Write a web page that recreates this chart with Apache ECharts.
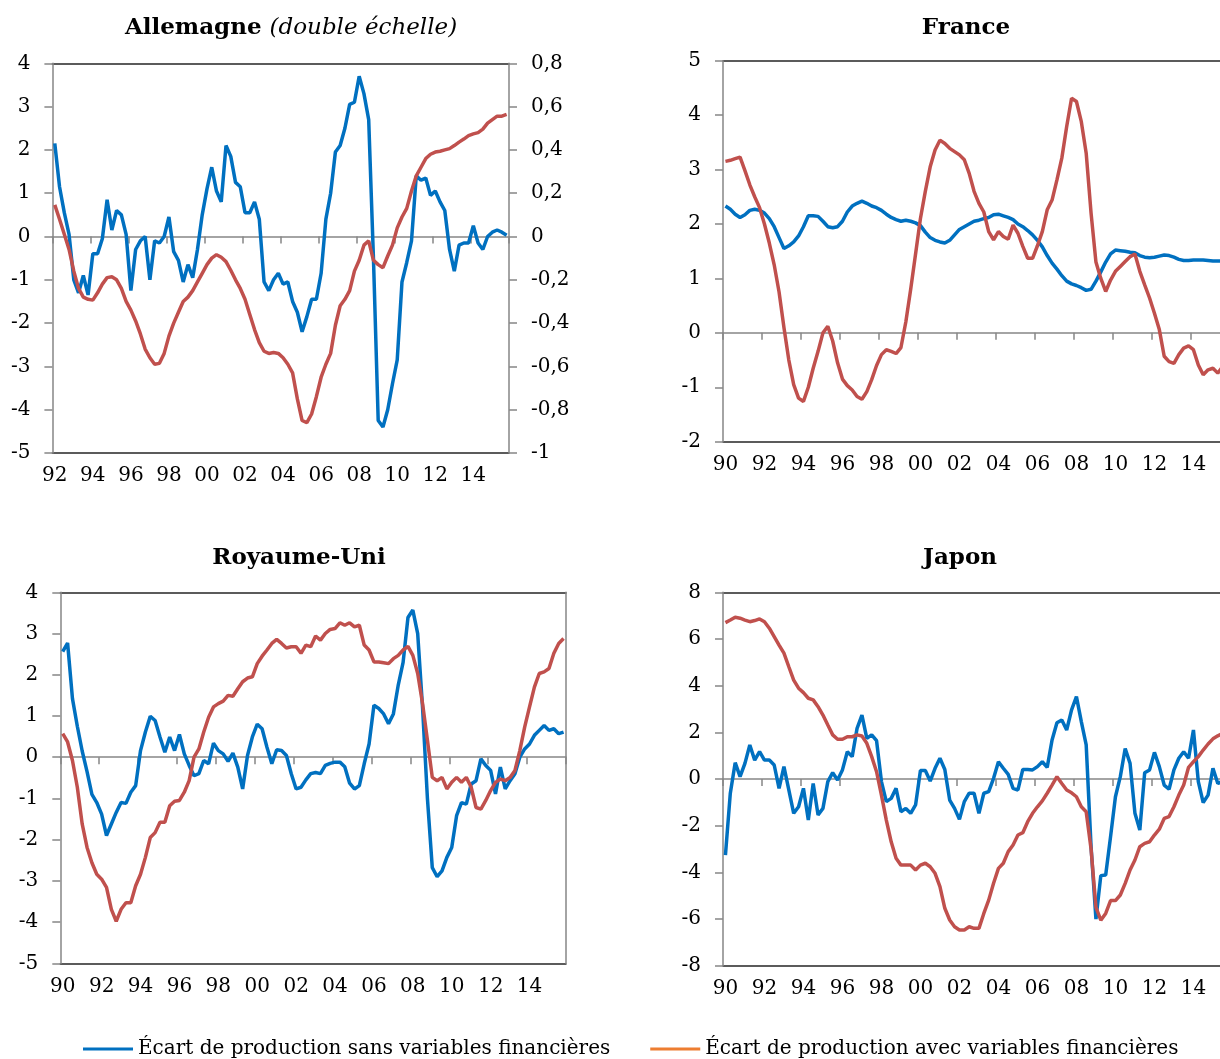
<!DOCTYPE html>
<html><head><meta charset="utf-8">
<script src="https://cdn.jsdelivr.net/npm/echarts@6/dist/echarts.min.js"></script>
<style>html,body{margin:0;padding:0;background:#fff}#c{width:1220px;height:1059px}</style>
</head><body><div id="c"></div><script>
// ---- tick labels (years) ----
const yearsDE = ['92','93','94','95','96','97','98','99','00','01','02','03','04','05','06','07','08','09','10','11','12','13','14','15'];
const yearsFR = ['90','91','92','93','94','95','96','97','98','99','00','01','02','03','04','05','06','07','08','09','10','11','12','13','14','15'];
const yearsUK = yearsFR;
const yearsJP = yearsFR;

// ---- series names ----
const nameSans = 'Écart de production sans variables financières';
const nameAvec = 'Écart de production avec variables financières';

// ---- Allemagne (blue: left axis, red: right axis) ----
const deSans = [2.15,1.15,0.55,0.05,-1.0,-1.3,-0.9,-1.35,-0.4,-0.4,
 -0.05,0.85,0.15,0.6,0.5,0.05,-1.25,-0.3,-0.1,0.0,
 -1.0,-0.1,-0.15,0.0,0.45,-0.35,-0.55,-1.05,-0.65,-0.95,
 -0.3,0.5,1.1,1.6,1.05,0.8,2.1,1.85,1.25,1.15,
 0.55,0.55,0.8,0.4,-1.05,-1.25,-1.0,-0.85,-1.1,-1.05,
 -1.5,-1.75,-2.2,-1.85,-1.45,-1.45,-0.85,0.4,1.0,1.95,
 2.1,2.5,3.05,3.1,3.7,3.3,2.7,-0.5,-4.25,-4.4,
 -4.0,-3.4,-2.85,-1.05,-0.6,-0.1,1.4,1.3,1.35,0.95,
 1.05,0.8,0.6,-0.3,-0.8,-0.2,-0.15,-0.15,0.25,-0.15,
 -0.3,0.0,0.1,0.15,0.1,0.03];
const deAvec = [0.146,0.08,0.01,-0.06,-0.16,-0.24,-0.28,-0.29,-0.294,-0.26,
 -0.22,-0.19,-0.186,-0.2,-0.24,-0.3,-0.34,-0.39,-0.45,-0.52,
 -0.56,-0.59,-0.586,-0.54,-0.46,-0.4,-0.35,-0.3,-0.28,-0.25,
 -0.21,-0.17,-0.13,-0.1,-0.084,-0.096,-0.116,-0.156,-0.2,-0.24,
 -0.29,-0.36,-0.43,-0.49,-0.53,-0.54,-0.536,-0.54,-0.56,-0.59,
 -0.63,-0.75,-0.85,-0.86,-0.82,-0.74,-0.65,-0.59,-0.54,-0.41,
 -0.32,-0.29,-0.25,-0.16,-0.11,-0.04,-0.02,-0.11,-0.13,-0.144,
 -0.09,-0.04,0.04,0.09,0.13,0.21,0.28,0.32,0.36,0.38,
 0.39,0.394,0.4,0.406,0.42,0.436,0.45,0.466,0.474,0.48,
 0.496,0.524,0.54,0.556,0.556,0.564];

// ---- France ----
const frSans = [2.33,2.27,2.18,2.12,2.17,2.25,2.27,2.25,2.2,2.1,
 1.95,1.75,1.55,1.6,1.67,1.78,1.95,2.15,2.15,2.14,
 2.05,1.95,1.93,1.95,2.05,2.22,2.33,2.38,2.42,2.38,
 2.33,2.3,2.25,2.18,2.12,2.08,2.05,2.07,2.05,2.02,
 1.97,1.85,1.75,1.7,1.67,1.65,1.7,1.8,1.9,1.95,
 2.0,2.05,2.07,2.1,2.12,2.17,2.18,2.15,2.12,2.08,
 2.0,1.95,1.88,1.8,1.7,1.58,1.42,1.28,1.17,1.05,
 0.95,0.9,0.87,0.83,0.78,0.8,0.95,1.12,1.3,1.45,
 1.52,1.51,1.5,1.48,1.47,1.42,1.39,1.38,1.39,1.41,
 1.43,1.42,1.39,1.35,1.33,1.33,1.34,1.34,1.34,1.33,
 1.32,1.32,1.32,1.32];
const frAvec = [3.15,3.17,3.2,3.23,2.98,2.72,2.5,2.3,2.0,1.65,
 1.25,0.75,0.1,-0.5,-0.95,-1.2,-1.26,-1.0,-0.65,-0.34,
 0.0,0.12,-0.15,-0.55,-0.85,-0.97,-1.05,-1.17,-1.22,-1.08,
 -0.86,-0.6,-0.4,-0.31,-0.34,-0.38,-0.27,0.2,0.8,1.45,
 2.1,2.6,3.05,3.36,3.54,3.48,3.39,3.33,3.27,3.18,
 2.93,2.6,2.38,2.22,1.86,1.71,1.86,1.77,1.72,1.98,
 1.83,1.59,1.37,1.37,1.6,1.86,2.26,2.44,2.81,3.21,
 3.79,4.31,4.25,3.88,3.3,2.2,1.3,1.0,0.76,0.97,
 1.13,1.22,1.31,1.4,1.45,1.13,0.88,0.64,0.36,0.06,
 -0.43,-0.53,-0.56,-0.4,-0.28,-0.24,-0.31,-0.59,-0.77,-0.68,
 -0.65,-0.74,-0.62,-0.6];

// ---- Royaume-Uni ----
const ukSans = [2.56,2.77,1.42,0.75,0.15,-0.35,-0.9,-1.1,-1.38,-1.9,
 -1.62,-1.34,-1.1,-1.12,-0.85,-0.69,0.16,0.61,0.99,0.89,
 0.49,0.12,0.49,0.16,0.55,0.08,-0.2,-0.45,-0.4,-0.08,
 -0.16,0.34,0.16,0.08,-0.1,0.1,-0.24,-0.77,0.04,0.49,
 0.8,0.69,0.24,-0.16,0.18,0.16,0.04,-0.4,-0.77,-0.73,
 -0.55,-0.4,-0.37,-0.4,-0.2,-0.15,-0.12,-0.12,-0.23,-0.63,
 -0.77,-0.69,-0.16,0.32,1.26,1.18,1.05,0.81,1.05,1.75,
 2.3,3.39,3.57,3.0,1.2,-1.0,-2.68,-2.9,-2.76,-2.43,
 -2.19,-1.42,-1.1,-1.14,-0.65,-0.57,-0.04,-0.2,-0.32,-0.89,
 -0.24,-0.77,-0.57,-0.4,0.0,0.2,0.32,0.53,0.65,0.77,
 0.65,0.69,0.57,0.61];
const ukAvec = [0.57,0.37,-0.08,-0.73,-1.62,-2.19,-2.56,-2.84,-2.96,-3.16,
 -3.69,-3.98,-3.69,-3.53,-3.53,-3.12,-2.84,-2.43,-1.95,-1.83,
 -1.58,-1.58,-1.18,-1.07,-1.05,-0.85,-0.57,0.0,0.2,0.61,
 0.97,1.22,1.3,1.36,1.5,1.48,1.66,1.83,1.92,1.95,
 2.27,2.45,2.6,2.76,2.86,2.76,2.65,2.68,2.68,2.52,
 2.72,2.68,2.94,2.84,3.0,3.1,3.12,3.26,3.2,3.26,
 3.16,3.2,2.72,2.6,2.31,2.31,2.29,2.27,2.39,2.47,
 2.6,2.69,2.47,2.03,1.3,0.41,-0.49,-0.57,-0.49,-0.77,
 -0.61,-0.49,-0.61,-0.49,-0.73,-1.22,-1.26,-1.05,-0.81,-0.61,
 -0.53,-0.57,-0.49,-0.32,0.16,0.73,1.22,1.7,2.03,2.07,
 2.15,2.52,2.76,2.88];

// ---- Japon ----
const jpSans = [-3.26,-0.61,0.7,0.1,0.67,1.46,0.81,1.17,0.81,0.81,
 0.6,-0.4,0.53,-0.47,-1.47,-1.19,-0.4,-1.76,-0.19,-1.54,
 -1.26,-0.11,0.27,-0.04,0.39,1.17,0.96,2.17,2.74,1.74,
 1.89,1.64,-0.11,-0.97,-0.83,-0.4,-1.4,-1.26,-1.47,-1.11,
 0.36,0.36,-0.09,0.46,0.89,0.41,-0.9,-1.26,-1.73,-0.97,
 -0.61,-0.61,-1.47,-0.61,-0.54,0.03,0.74,0.46,0.2,-0.4,
 -0.47,0.41,0.41,0.39,0.53,0.74,0.5,1.67,2.41,2.53,
 2.1,2.96,3.53,2.46,1.46,-2.9,-6.0,-4.14,-4.11,-2.47,
 -0.76,0.1,1.31,0.67,-1.47,-2.19,0.27,0.39,1.14,0.53,
 -0.26,-0.44,0.39,0.89,1.17,0.89,2.1,-0.11,-1.01,-0.69,
 0.46,-0.19,-0.1,0.0];
const jpAvec = [6.7,6.81,6.93,6.89,6.81,6.74,6.79,6.86,6.74,6.46,
 6.1,5.74,5.39,4.81,4.24,3.89,3.7,3.46,3.39,3.1,
 2.74,2.31,1.89,1.7,1.7,1.81,1.81,1.89,1.84,1.53,
 0.96,0.31,-0.69,-1.76,-2.69,-3.4,-3.69,-3.69,-3.69,-3.9,
 -3.69,-3.61,-3.76,-4.04,-4.61,-5.54,-6.04,-6.33,-6.47,-6.47,
 -6.33,-6.4,-6.4,-5.76,-5.19,-4.47,-3.83,-3.61,-3.11,-2.83,
 -2.4,-2.3,-1.83,-1.47,-1.19,-0.94,-0.61,-0.26,0.1,-0.19,
 -0.47,-0.59,-0.76,-1.19,-1.4,-3.0,-5.5,-6.05,-5.76,-5.21,
 -5.21,-4.97,-4.47,-3.9,-3.47,-2.9,-2.76,-2.69,-2.4,-2.15,
 -1.69,-1.61,-1.19,-0.69,-0.26,0.5,0.74,0.96,1.24,1.5,
 1.72,1.85,1.95,2.05];

// ---- styling ----
const FONT = '"DejaVu Serif", "Liberation Serif", serif';
const BLUE = '#0070C0', RED = '#C0504D', LEG_RED = '#ED7D31';
const GRAY = '#868686', DARK = '#262626';

function quarters(years){ return years.flatMap(y => ['Q1','Q2','Q3','Q4'].map(q => y + ' ' + q)); }
function intLabel(v){ const r = Math.round(v*10)/10; return Number.isInteger(r) ? String(r) : r.toFixed(1).replace('.', ','); }

const panels = [
  {years: yearsDE, grid:{left:52.4, top:63.3, width:456.6, height:389.7}, min:-5, max:4, interval:1,
   right:{min:-1, max:0.8, interval:0.2, labels:true}, sans:deSans, avec:deAvec, avecRight:true},
  {years: yearsFR, grid:{left:723, top:60.7, width:507, height:381}, min:-2, max:5, interval:1,
   right:null, sans:frSans, avec:frAvec},
  {years: yearsUK, grid:{left:60.3, top:592.3, width:505.7, height:371}, min:-5, max:4, interval:1,
   right:{min:-5, max:4, interval:1, labels:false}, sans:ukSans, avec:ukAvec},
  {years: yearsJP, grid:{left:723, top:592.3, width:507, height:373.4}, min:-8, max:8, interval:2,
   right:null, sans:jpSans, avec:jpAvec}
];

const grid = [], xAxis = [], yAxis = [], series = [];
const labelStyle = {fontFamily: FONT, fontSize: 20, color: '#000'};
panels.forEach((p, g) => {
  grid.push(Object.assign({outerBoundsMode:'none', containLabel:false}, p.grid));
  const cats = quarters(p.years);
  const xBase = xAxis.length;
  xAxis.push({type:'category', gridIndex:g, data:cats, boundaryGap:true, position:'bottom',
    axisLine:{show:true, onZero:true, lineStyle:{color:GRAY, width:1.5}},
    axisTick:{show:true, interval:7, length:7, lineStyle:{color:GRAY, width:1.5}},
    axisLabel:{show:false}, splitLine:{show:false}, z:2});
  xAxis.push({type:'category', gridIndex:g, data:cats, boundaryGap:true, position:'bottom',
    axisLine:{show:true, onZero:false, lineStyle:{color:DARK, width:1.5}},
    axisTick:{show:false}, splitLine:{show:false},
    axisLabel:Object.assign({show:true, interval:7, margin:13, formatter:v => v.split(' ')[0]}, labelStyle)});
  xAxis.push({type:'category', gridIndex:g, data:cats, boundaryGap:true, position:'top',
    axisLine:{show:true, onZero:false, lineStyle:{color:DARK, width:1.5}},
    axisTick:{show:false}, axisLabel:{show:false}, splitLine:{show:false}});
  const yBase = yAxis.length;
  yAxis.push({type:'value', gridIndex:g, position:'left', min:p.min, max:p.max, interval:p.interval,
    axisLine:{show:true, onZero:false, lineStyle:{color:GRAY, width:1.5}},
    axisTick:{show:true, length:8, lineStyle:{color:GRAY, width:1.5}},
    splitLine:{show:false},
    axisLabel:Object.assign({margin:22, formatter:intLabel}, labelStyle), z:3});
  if (p.right) {
    yAxis.push({type:'value', gridIndex:g, position:'right', min:p.right.min, max:p.right.max, interval:p.right.interval,
      axisLine:{show:true, onZero:false, lineStyle:{color:GRAY, width:1.5}},
      axisTick:{show:p.right.labels, length:8, lineStyle:{color:GRAY, width:1.5}},
      splitLine:{show:false},
      axisLabel:Object.assign({show:p.right.labels, margin:22, formatter:intLabel}, labelStyle), z:3});
  }
  series.push({type:'line', name:nameSans, xAxisIndex:xBase, yAxisIndex:yBase, data:p.sans,
    symbol:'none', lineStyle:{color:BLUE, width:3.5}, itemStyle:{color:BLUE}, z:4});
  series.push({type:'line', name:nameAvec, xAxisIndex:xBase, yAxisIndex:p.avecRight ? yBase+1 : yBase, data:p.avec,
    symbol:'none', lineStyle:{color:RED, width:3.5}, itemStyle:{color:RED}, z:5});
});

const titleRich = {
  b:{fontFamily:FONT, fontWeight:'bold', fontStyle:'normal', fontSize:23, color:'#000'},
  i:{fontFamily:FONT, fontWeight:'normal', fontStyle:'italic', fontSize:23, color:'#000'}
};
function mkTitle(text, x, y){
  return {text, left:x, top:y, textAlign:'center', textVerticalAlign:'middle', padding:0,
    textStyle:{fontFamily:FONT, fontSize:23, fontWeight:'bold', color:'#000', rich:titleRich}};
}

const chart = echarts.init(document.getElementById('c'), null, {renderer:'canvas'});
chart.setOption({
  animation:false,
  backgroundColor:'#fff',
  title:[
    mkTitle('{b|Allemagne} {i|(double échelle)}', 291, 28),
    mkTitle('France', 966, 28),
    mkTitle('Royaume-Uni', 299, 558),
    mkTitle('Japon', 960, 558)
  ],
  legend:{left:78, top:1034, icon:'rect', itemWidth:50, itemHeight:3, itemGap:40, selectedMode:false,
    textStyle:{fontFamily:FONT, fontSize:20, color:'#000'},
    data:[{name:nameSans, itemStyle:{color:BLUE}}, {name:nameAvec, itemStyle:{color:LEG_RED}}]},
  grid, xAxis, yAxis, series
});
</script></body></html>
